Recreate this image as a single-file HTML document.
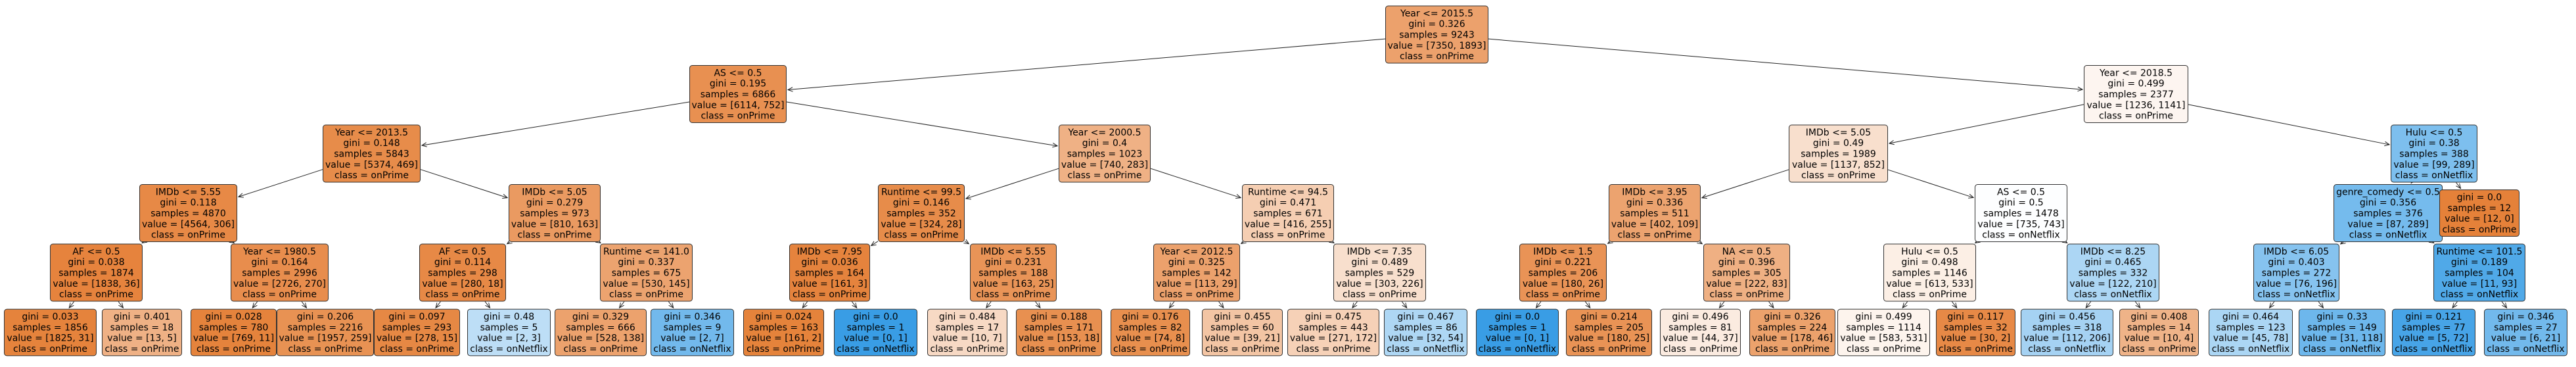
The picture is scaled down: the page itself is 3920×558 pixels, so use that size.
<!DOCTYPE html>
<html><head><meta charset="utf-8">
<style>
html,body{margin:0;padding:0;background:#fff;}
svg{display:block;}
text{font-family:"DejaVu Sans","Liberation Sans",sans-serif;font-size:14px;fill:#000;}
</style></head>
<body>
<svg id="s" width="3920" height="558" xmlns="http://www.w3.org/2000/svg"></svg>
<script>
var LV=[52.5,143,233.5,324,414.5,505.5];
var N={};
function nd(id,lvl,x1,x2,lines,val,parent){N[id]={id:id,l:lvl,x1:x1,x2:x2,lines:lines,val:val,p:parent};}
function I(id,l,x1,x2,cond,g,s,v,c,p){nd(id,l,x1,x2,[cond,"gini = "+g,"samples = "+s,"value = ["+v[0]+", "+v[1]+"]","class = "+c],v,p);}
function L(id,l,x1,x2,g,s,v,c,p){nd(id,l,x1,x2,["gini = "+g,"samples = "+s,"value = ["+v[0]+", "+v[1]+"]","class = "+c],v,p);}
var P="onPrime",F="onNetflix";
I("r",0,2108,2265,"Year <= 2015.5","0.326",9243,[7350,1893],P,null);
I("a",1,1049,1197,"AS <= 0.5","0.195",6866,[6114,752],P,"r");
I("b",1,3171,3330,"Year <= 2018.5","0.499",2377,[1236,1141],P,"r");
I("aa",2,491,640,"Year <= 2013.5","0.148",5843,[5374,469],P,"a");
I("ab",2,1611,1751,"Year <= 2000.5","0.4",1023,[740,283],P,"a");
I("ba",2,2722,2873,"IMDb <= 5.05","0.49",1989,[1137,852],P,"b");
I("bb",2,3638,3770,"Hulu <= 0.5","0.38",388,[99,289],F,"b");
I("aaa",3,212,361,"IMDb <= 5.55","0.118",4870,[4564,306],P,"aa");
I("aab",3,774,914,"IMDb <= 5.05","0.279",973,[810,163],P,"aa");
I("aba",3,1336,1468,"Runtime <= 99.5","0.146",352,[324,28],P,"ab");
I("abb",3,1890,2030,"Runtime <= 94.5","0.471",671,[416,255],P,"ab");
I("baa",3,2448,2588,"IMDb <= 3.95","0.336",511,[402,109],P,"ba");
I("bab",3,3005,3146,"AS <= 0.5","0.5",1478,[735,743],F,"ba");
I("bba",3,3551,3717,"genre_comedy <= 0.5","0.356",376,[87,289],F,"bb");
L("bbb",3,3712,3834,"0.0",12,[12,0],P,"bb");
I("c1",4,76,217,"AF <= 0.5","0.038",1874,[1838,36],P,"aaa");
I("c2",4,351,500,"Year <= 1980.5","0.164",2996,[2726,270],P,"aaa");
I("c3",4,638,770,"AF <= 0.5","0.114",298,[280,18],P,"aab");
I("c4",4,913,1054,"Runtime <= 141.0","0.337",675,[530,145],P,"aab");
I("c5",4,1201,1324,"IMDb <= 7.95","0.036",164,[161,3],P,"aba");
I("c6",4,1476,1608,"IMDb <= 5.55","0.231",188,[163,25],P,"aba");
I("c7",4,1755,1887,"Year <= 2012.5","0.325",142,[113,29],P,"abb");
I("c8",4,2029,2170,"IMDb <= 7.35","0.489",529,[303,226],P,"abb");
I("c9",4,2312,2445,"IMDb <= 1.5","0.221",206,[180,26],P,"baa");
I("c10",4,2592,2724,"NA <= 0.5","0.396",305,[222,83],P,"baa");
I("c11",4,2866,3007,"Hulu <= 0.5","0.498",1146,[613,533],P,"bab");
I("c12",4,3145,3286,"IMDb <= 8.25","0.465",332,[122,210],F,"bab");
I("c13",4,3429,3560,"IMDb <= 6.05","0.403",272,[76,196],F,"bba");
I("c14",4,3703,3843,"Runtime <= 101.5","0.189",104,[11,93],F,"bba");
var lv=[
[6,147,"0.033",1856,[1825,31],P,"c1"],[155,277,"0.401",18,[13,5],P,"c1"],
[290,421,"0.028",780,[769,11],P,"c2"],[421,569,"0.206",2216,[1957,259],P,"c2"],
[569,700,"0.097",293,[278,15],P,"c3"],[711,838,"0.48",5,[2,3],F,"c3"],
[844,984,"0.329",666,[528,138],P,"c4"],[990,1117,"0.346",9,[2,7],F,"c4"],
[1131,1254,"0.024",163,[161,2],P,"c5"],[1269,1396,"0.0",1,[0,1],F,"c5"],
[1411,1533,"0.484",17,[10,7],P,"c6"],[1546,1677,"0.188",171,[153,18],P,"c6"],
[1690,1811,"0.176",82,[74,8],P,"c7"],[1829,1952,"0.455",60,[39,21],P,"c7"],
[1959,2099,"0.475",443,[271,172],P,"c8"],[2106,2233,"0.467",86,[32,54],F,"c8"],
[2246,2372,"0.0",1,[0,1],F,"c9"],[2383,2514,"0.214",205,[180,25],P,"c9"],
[2526,2649,"0.496",81,[44,37],P,"c10"],[2662,2793,"0.326",224,[178,46],P,"c10"],
[2796,2937,"0.499",1114,[583,531],P,"c11"],[2946,3067,"0.117",32,[30,2],P,"c11"],
[3075,3216,"0.456",318,[112,206],F,"c12"],[3225,3346,"0.408",14,[10,4],P,"c12"],
[3361,3489,"0.464",123,[45,78],F,"c13"],[3498,3630,"0.33",149,[31,118],F,"c13"],
[3640,3767,"0.121",77,[5,72],F,"c14"],[3780,3907,"0.346",27,[6,21],F,"c14"]];
lv.forEach(function(a,i){L("l"+i,5,a[0],a[1],a[2],a[3],a[4],a[5],a[6]);});

function color(v){
  var t=v[0]+v[1],p0=v[0]/t,p1=v[1]/t;
  var c=p0>=p1?[229,129,57]:[57,157,229];
  var mx=Math.max(p0,p1),sc=Math.min(p0,p1);
  var al=sc>=1?0:(mx-sc)/(1-sc);
  return "rgb("+c.map(function(k){return Math.round(al*k+(1-al)*255);}).join(",")+")";
}
function box(n){
  var h=n.lines.length*16.3+6.5;
  var cy=LV[n.l];
  return {x1:n.x1,x2:n.x2,y1:cy-h/2,y2:cy+h/2,cx:(n.x1+n.x2)/2,cy:cy};
}
var svg=document.getElementById("s"),out="";
function clip(b,sx,sy,dx,dy){
  var hw=(b.x2-b.x1)/2,hh=(b.y2-b.y1)/2;
  var t=Math.min(Math.abs(dx)>0?hw/Math.abs(dx):1e9,Math.abs(dy)>0?hh/Math.abs(dy):1e9);
  return [sx+dx*t,sy+dy*t];
}
function rot(x,y,a){return [x*Math.cos(a)-y*Math.sin(a),x*Math.sin(a)+y*Math.cos(a)];}
for(var k in N){
  var n=N[k]; if(!n.p) continue;
  var pb=box(N[n.p]),cb=box(n);
  var dx=cb.cx-pb.cx,dy=cb.cy-pb.cy;
  var s=clip(pb,pb.cx,pb.cy,dx,dy);
  var e=clip(cb,cb.cx,cb.cy,-dx,-dy);
  var len=Math.sqrt(dx*dx+dy*dy),ux=dx/len,uy=dy/len;
  e=[e[0]-ux*2,e[1]-uy*2];
  out+='<line x1="'+s[0]+'" y1="'+s[1]+'" x2="'+e[0]+'" y2="'+e[1]+'" stroke="#222" stroke-width="1"/>';
  var al=8,ang=0.42;
  var r1=rot(-ux,-uy,ang),r2=rot(-ux,-uy,-ang);
  out+='<polyline points="'+(e[0]+r1[0]*al)+','+(e[1]+r1[1]*al)+' '+e[0]+','+e[1]+' '+(e[0]+r2[0]*al)+','+(e[1]+r2[1]*al)+'" fill="none" stroke="#222" stroke-width="1"/>';
}
for(var k in N){
  var n=N[k],b=box(n);
  out+='<rect x="'+(b.x1+0.5)+'" y="'+(b.y1+0.5)+'" width="'+(b.x2-b.x1-1)+'" height="'+(b.y2-b.y1-1)+'" rx="4" ry="4" fill="'+color(n.val)+'" stroke="#333" stroke-width="1"/>';
  var m=n.lines.length;
  for(var i=0;i<m;i++){
    var y=b.cy+(i-(m-1)/2)*16.3+5;
    var t=n.lines[i].replace(/&/g,"&amp;").replace(/</g,"&lt;");
    out+='<text x="'+b.cx+'" y="'+y+'" text-anchor="middle">'+t+'</text>';
  }
}
svg.innerHTML=out;
</script>
</body></html>
